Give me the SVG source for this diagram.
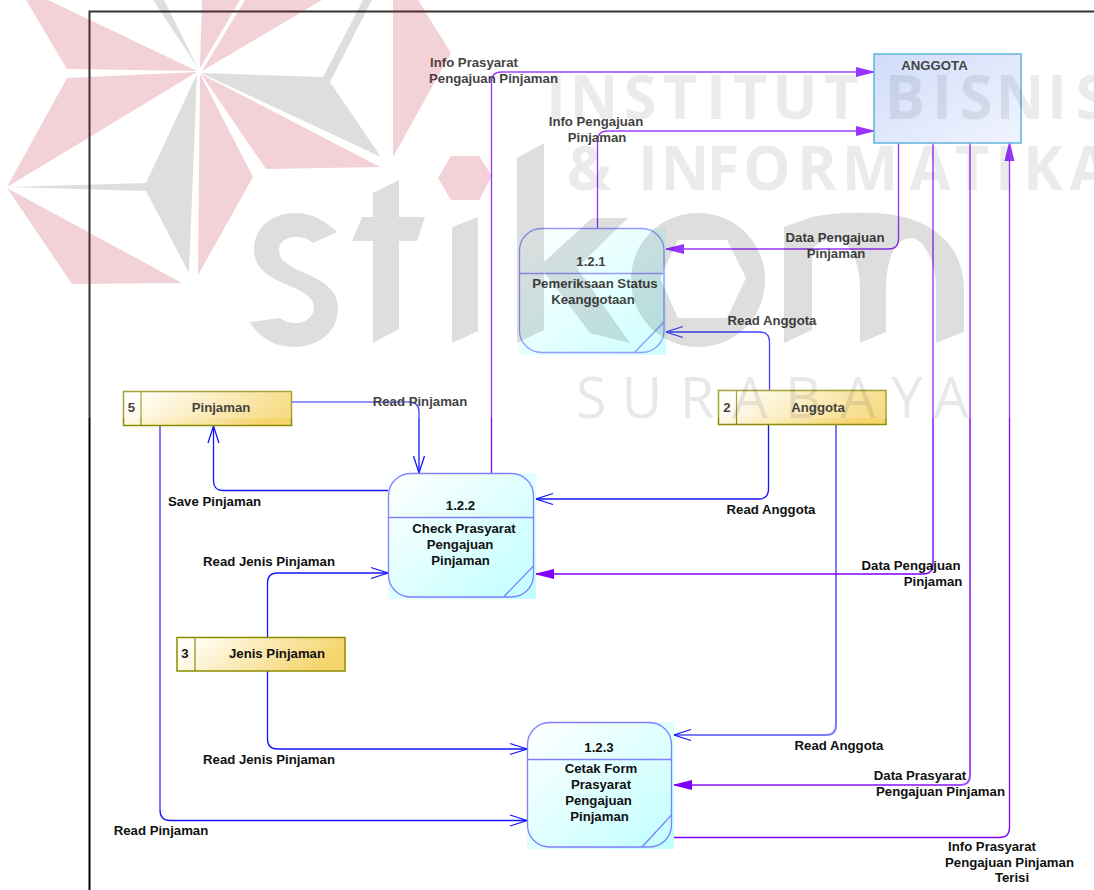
<svg xmlns="http://www.w3.org/2000/svg" width="1094" height="890" viewBox="0 0 1094 890">
<style>
text{font-family:"Liberation Sans",Arial,sans-serif;font-weight:700;font-size:13.2px;fill:#111;text-anchor:middle}
.frame{fill:none;stroke:#000;stroke-width:2}
.b,.bt,.p,.pt{fill:none;stroke-linejoin:round}
.b{stroke:#1414ff;stroke-width:1.3}
.bt{stroke:#7a7aff;stroke-width:2}
.p{stroke:#8000ff;stroke-width:1.3}
.pt{stroke:#a64dff;stroke-width:2}
.proc{fill:url(#gp);stroke:none}
.procb{fill:none;stroke:#8080ff;stroke-width:1.3}
.store{fill:url(#gs);stroke:#8c8c00;stroke-width:1.5}
.div{fill:none;stroke:#8c8c00;stroke-width:1.2}
.wg{fill:#000;fill-opacity:.13;stroke:none}
.wr{fill:#be1e32;fill-opacity:.2;stroke:none}
text.wt{font-family:"Open Sans","Liberation Sans",sans-serif;font-weight:700;font-size:60px;fill:#000;fill-opacity:.08}
text.ws{font-family:"Open Sans","Liberation Sans",sans-serif;font-weight:400;font-size:56px;fill:#000;fill-opacity:.09}
</style>
<defs>
<linearGradient id="gp" x1="0" y1="0" x2="1" y2="1"><stop offset="0" stop-color="#fff"/><stop offset="1" stop-color="#c0ffff"/></linearGradient>
<linearGradient id="gs" x1="0" y1="0" x2="1" y2=".25"><stop offset="0" stop-color="#fff"/><stop offset=".12" stop-color="#fffdf6"/><stop offset="1" stop-color="#f6d56e"/></linearGradient>
<linearGradient id="ge" x1="0" y1="0" x2="1" y2="1"><stop offset="0" stop-color="#c4d4f8"/><stop offset="1" stop-color="#eef2ff"/></linearGradient>
<marker id="open" markerUnits="userSpaceOnUse" markerWidth="22" markerHeight="16" refX="18" refY="7" orient="auto"><path d="M1,1.5 L18,7 L1,12.5" fill="none" stroke="#1414ff" stroke-width="1.3"/></marker>
<marker id="fill" markerUnits="userSpaceOnUse" markerWidth="22" markerHeight="14" refX="18" refY="6" orient="auto"><path d="M0,1 L18,5.4 V6.6 L0,11 Z" fill="#8000ff"/></marker>
</defs>

<path class="frame" d="M89.5,890 V11.5 H1094"/>

<g id="connectors">
<g id="c-info-prasyarat"><path class="p" d="M491.5,473 V82 Q491.5,72 501.5,72"/><path class="pt" d="M501,72 H874" marker-end="url(#fill)"/></g>
<g id="c-info-pengajuan"><path class="p" d="M597.5,228 V141 Q597.5,131 607.5,131"/><path class="pt" d="M607,131 H874" marker-end="url(#fill)"/></g>
<g id="c-data-pengajuan-1"><path class="p" d="M898.5,143 V239 Q898.5,249 888.5,249 H666" marker-end="url(#fill)"/></g>
<g id="c-read-anggota-1"><path class="b" d="M769.5,391 V342 Q769.5,332 759.5,332 H666" marker-end="url(#open)"/></g>
<g id="c-read-anggota-2"><path class="b" d="M768.5,425 V489 Q768.5,499 758.5,499 H536" marker-end="url(#open)"/></g>
<g id="c-read-anggota-3"><path class="bt" d="M836,425 V725 Q836,735 826,735 H674" marker-end="url(#open)"/></g>
<g id="c-data-pengajuan-2"><path class="pt" d="M933,143 V564"/><path class="p" d="M933,564 Q933,574 923,574 H536" marker-end="url(#fill)"/></g>
<g id="c-data-prasyarat"><path class="pt" d="M970,143 V775 Q970,785 960,785 H674" marker-end="url(#fill)"/></g>
<g id="c-info-terisi"><path class="p" d="M674,837.5 H999.5 Q1009.5,837.5 1009.5,827.5 V143" marker-end="url(#fill)"/></g>
<g id="c-read-pinjaman-1"><path class="bt" d="M292,402 H409"/><path class="b" d="M409,402 Q419,402 419,412 V473" marker-end="url(#open)"/></g>
<g id="c-save-pinjaman"><path class="b" d="M388,490.5 H223 Q213.5,490.5 213.5,480.5 V426" marker-end="url(#open)"/></g>
<g id="c-read-jenis-1"><path class="b" d="M267.5,637 V583 Q267.5,573 277.5,573 H388" marker-end="url(#open)"/></g>
<g id="c-read-jenis-2"><path class="b" d="M267.5,671 V739 Q267.5,749 277.5,749 H527" marker-end="url(#open)"/></g>
<g id="c-read-pinjaman-2"><path class="bt" d="M160,426 V810"/><path class="b" d="M160,810 Q160,820.5 170,820.5 H527" marker-end="url(#open)"/></g>
</g>

<g id="entity-anggota"><rect x="874" y="54" width="147" height="89" fill="url(#ge)" stroke="#38a1d8" stroke-width="1.5"/><text x="934.5" y="70">ANGGOTA</text></g>

<g id="process-121"><rect class="proc" x="519" y="228" width="147" height="127"/><rect class="procb" x="519.5" y="228.5" width="144.5" height="124" rx="22"/><path class="procb" d="M519.5,273.5 H664 M664,322 L634.5,352.5"/><text x="591" y="266">1.2.1</text><text x="595" y="288">Pemeriksaan Status</text><text x="593" y="304">Keanggotaan</text></g>

<g id="process-122"><rect class="proc" x="388" y="473" width="148" height="126"/><rect class="procb" x="388.5" y="473.5" width="145" height="123.5" rx="22"/><path class="procb" d="M388.5,517.5 H533.5 M533.5,566 L503.5,597"/><text x="460.5" y="510">1.2.2</text><text x="464" y="533">Check Prasyarat</text><text x="460" y="549">Pengajuan</text><text x="460.5" y="565">Pinjaman</text></g>

<g id="process-123"><rect class="proc" x="527" y="722" width="147" height="127"/><rect class="procb" x="527.5" y="722.5" width="144" height="124.5" rx="22"/><path class="procb" d="M527.5,759.5 H671.5 M671.5,815 L642,847"/><text x="599" y="752">1.2.3</text><text x="601" y="773">Cetak Form</text><text x="601" y="789">Prasyarat</text><text x="598.5" y="805">Pengajuan</text><text x="599.5" y="821">Pinjaman</text></g>

<g id="store-5"><rect class="store" x="123.5" y="391.5" width="168" height="34"/><path class="div" d="M141,391.5 V425.5"/><text x="131.5" y="412">5</text><text x="221" y="412">Pinjaman</text></g>
<g id="store-3"><rect class="store" x="177" y="637.5" width="168" height="33.5"/><path class="div" d="M195,637.5 V671"/><text x="185" y="658">3</text><text x="277" y="658">Jenis Pinjaman</text></g>
<g id="store-2"><rect class="store" x="718.5" y="390.5" width="167.5" height="34"/><path class="div" d="M736.5,390.5 V424.5"/><text x="727" y="412">2</text><text x="818" y="412">Anggota</text></g>

<g id="labels">
<text x="474" y="67">Info Prasyarat</text><text x="493.5" y="83">Pengajuan Pinjaman</text>
<text x="596" y="126">Info Pengajuan</text><text x="597" y="142">Pinjaman</text>
<text x="835" y="242">Data Pengajuan</text><text x="836" y="258">Pinjaman</text>
<text x="772" y="325">Read Anggota</text>
<text x="420" y="406">Read Pinjaman</text>
<text x="214.5" y="506">Save Pinjaman</text>
<text x="269" y="566">Read Jenis Pinjaman</text>
<text x="269" y="764">Read Jenis Pinjaman</text>
<text x="161" y="835">Read Pinjaman</text>
<text x="771" y="514">Read Anggota</text>
<text x="911" y="570">Data Pengajuan</text><text x="933" y="586">Pinjaman</text>
<text x="839" y="750">Read Anggota</text>
<text x="920" y="780">Data Prasyarat</text><text x="940.5" y="796">Pengajuan Pinjaman</text>
<text x="992" y="851">Info Prasyarat</text><text x="1009.5" y="867">Pengajuan Pinjaman</text><text x="1012" y="882">Terisi</text>
</g>

<g id="watermark">
<rect x="0" y="0" width="1094" height="418" fill="#fff" fill-opacity=".2"/>
<path class="wr" d="M26,0 L67,69 L197,71 L48,0 Z"/>
<path class="wr" d="M197,72 L67,78 L7,187 Z"/>
<path class="wr" d="M7,188 L72,284 L182,283 Z"/>
<path class="wr" d="M200,74 L253,177 L198,275 Z"/>
<path class="wr" d="M201,74 L266,169 L380,167 Z"/>
<path class="wr" d="M202,0 L200,68 L240,0 Z"/>
<path class="wr" d="M245,0 L202,71 L322,0 Z"/>
<path class="wr" d="M393,0 L418,0 L451,53 L393,157 Z"/>
<path class="wr" d="M438,178 L451,156 L479,156 L492,176 L479,200 L451,200 Z"/>
<path class="wg" d="M7,187 L146,183 L197,74 L189,273 L146,191 Z"/>
<path class="wg" d="M201,73 L323,77 L363,0 L372,0 L330,82 L381,157 Z"/>
<path class="wg" d="M153,0 L164,0 L198,68 Z"/>
<path class="wg" d="M337,232 L313,243 C308,239 303,237 296,237 C286,237 279,242 279,250 C279,259 286,264 298,270 C322,280 338,289 338,308 C338,332 318,347 294,347 C275,347 259,338 250,322 L280,318 C284,321 289,323 295,323 C307,323 314,316 314,307 C314,299 306,293 292,287 C270,278 254,269 254,250 C254,228 271,213 295,213 C312,213 326,221 337,232 Z"/>
<path class="wg" d="M373,193 L399,180 V217 H425 L417,241 H399 V329 L373,343 V241 H352 L362,217 H373 Z"/>
<path class="wg" d="M452,227 L478,217 V331 L452,343 Z"/>
<path class="wg" d="M517,158 L544,143 V262 L592,218 H628 L577,268 L630,343 L590,333 L544,272 V330 L517,343 Z"/>
<path class="wg" fill-rule="evenodd" d="M698,213 C736,213 765,243 765,280 C765,317 736,347 698,347 C660,347 631,317 631,280 C631,243 660,213 698,213 Z M678,240 L727,240 L746,278 L727,318 L678,318 L660,278 Z"/>
<path class="wg" d="M784,227 L812,217 C830,213 850,212 875,213 C925,215 964,240 964,290 V332 L936,343 V290 C936,258 922,238 911,238 C895,238 886,260 886,290 V332 L860,343 V290 C860,260 848,238 835,238 C825,238 815,245 812,250 V330 L784,343 Z"/>
<text class="wt" y="119" x="556 594 640 680 716 750 795 841">INSTITUT</text>
<text class="wt" y="119" x="905 942 976 1020 1057 1092">BISNIS</text>
<text class="wt" y="190" x="589">&amp;</text>
<text class="wt" y="190" x="648 685 723 767 817 870 930 972 1005 1043 1090">INFORMATIKA</text>
<text class="ws" y="418" x="591 642 697 750 803 858 907 951">SURABAYA</text>
</g>
</svg>
